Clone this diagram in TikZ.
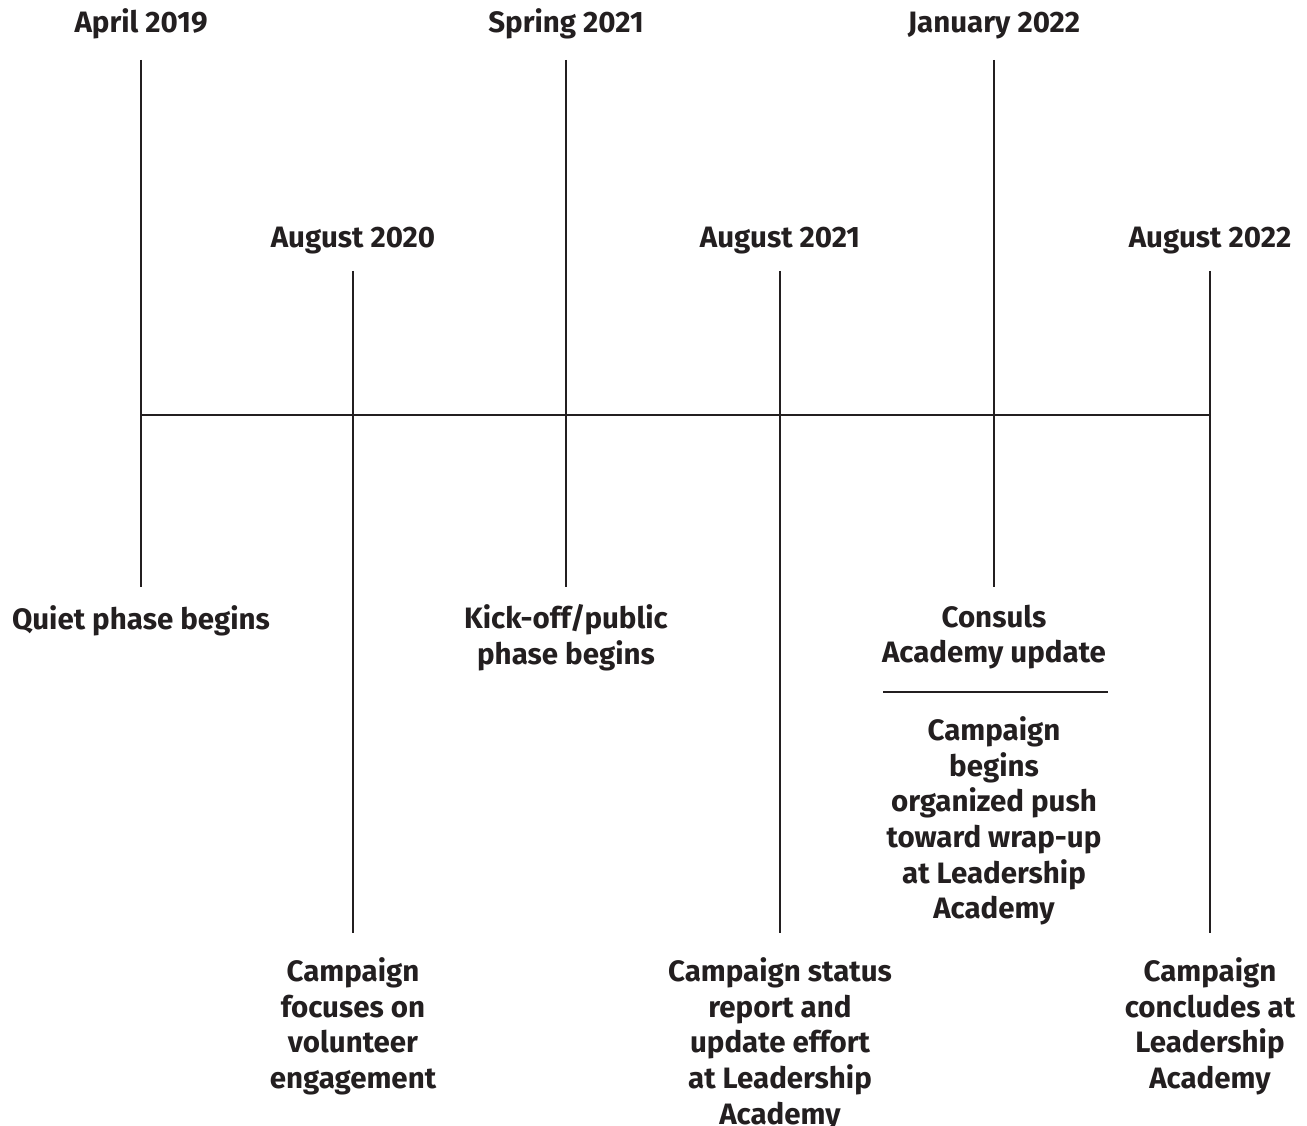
\documentclass[tikz,border=0pt]{standalone}
\usepackage{fontspec}
\setmainfont{Fira Sans}
\usepackage{xcolor}
\usetikzlibrary{positioning}
\definecolor{inkblack}{HTML}{231f20}

\begin{document}
\begin{tikzpicture}[x=1pt, y=-1pt,
    eventtext/.style={font=\fontsize{29.5}{35.6}\selectfont\bfseries,
        text=inkblack, align=center, inner sep=0pt, anchor=north,
        yshift=22.5pt, execute at begin node=\strut},
    stem/.style={draw=inkblack, line width=2.8pt}]
\useasboundingbox (0,0) rectangle (1307,1126);
% Timeline axis
\coordinate (axis start) at (141,415);
\coordinate (axis end) at (1210,415);
\draw[stem] (axis start) -- (axis end);
% Events above the axis, notes below the short stems
\foreach \id/\x/\date/\what in {
    apr/141/April 2019/{Quiet phase begins},
    spr/566/Spring 2021/{Kick-off/public\\phase begins},
    jan/994/January 2022/{Consuls\\Academy update}}{
    \node[eventtext] (\id date) at (\x,30) {\date};
    \coordinate (\id top) at (\x,60);
    \coordinate (\id bot) at (\x,587);
    \draw[stem] (\id top) -- (\id bot);
    \node[eventtext] (\id note) at (\x,627) {\what};
}
% Events with long stems, notes at the bottom
\foreach \id/\x/\date/\what in {
    augA/353/August 2020/{Campaign\\focuses on\\volunteer\\engagement},
    augB/780/August 2021/{Campaign status\\report and\\update effort\\at Leadership\\Academy},
    augC/1210/August 2022/{Campaign\\concludes at\\Leadership\\Academy}}{
    \node[eventtext] (\id date) at (\x,245) {\date};
    \coordinate (\id top) at (\x,271);
    \coordinate (\id bot) at (\x,933);
    \draw[stem] (\id top) -- (\id bot);
    \node[eventtext] (\id note) at (\x,980) {\what};
}
% Second note under January 2022
\coordinate (rule left) at (883,692);
\coordinate (rule right) at (1108,692);
\draw[stem] (rule left) -- (rule right);
\node[eventtext] (jan push) at (994,739)
    {Campaign\\begins\\organized push\\toward wrap-up\\at Leadership\\Academy};
\end{tikzpicture}
\end{document}
